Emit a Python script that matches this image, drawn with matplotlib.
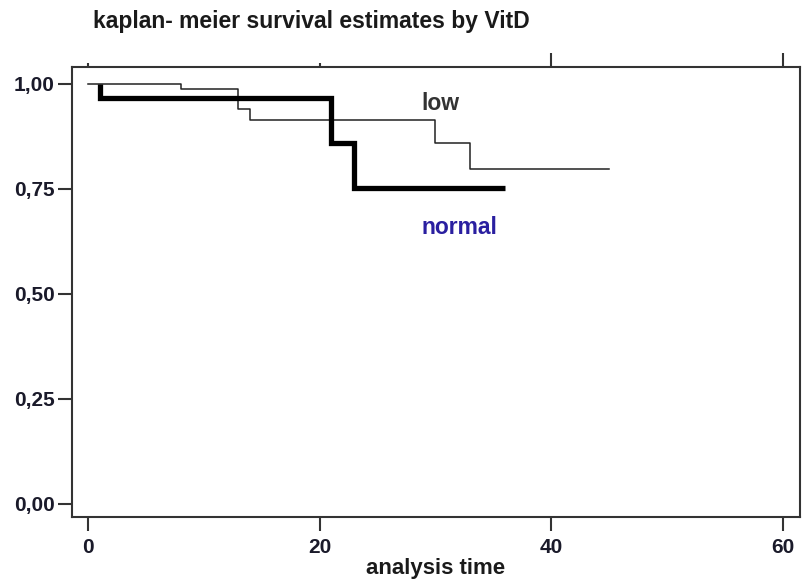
import matplotlib
matplotlib.use("Agg")
import matplotlib.pyplot as plt

# Kaplan-Meier step data
low_time = [0, 8, 13, 14, 30, 33, 45]
low_surv = [1.0, 0.987, 0.940, 0.914, 0.859, 0.797, 0.797]
normal_time = [1, 1, 21, 23, 36]
normal_surv = [1.0, 0.967, 0.859, 0.753, 0.753]

x_ticks = [0, 20, 40, 60]
y_ticks = [0.0, 0.25, 0.5, 0.75, 1.0]
y_ticklabels = ["0,00", "0,25", "0,50", "0,75", "1,00"]

title = "kaplan- meier survival estimates by VitD"
xlabel = "analysis time"

plt.rcParams['font.family'] = ['Liberation Sans', 'DejaVu Sans']

fig = plt.figure(figsize=(8.02, 5.81), dpi=100)
ax = fig.add_axes([72/802, 1-517/581, (800-72)/802, (517-67)/581])

ax.step(low_time, low_surv, where='post', color='#222222', lw=1.1)
ax.step(normal_time, normal_surv, where='post', color='black', lw=3.8,
        solid_capstyle='butt', solid_joinstyle='miter')

ax.set_xlim(-1.38, 61.5)
ax.set_ylim(-0.031, 1.04)

ax.set_xticks(x_ticks)
ax.set_xticklabels([str(t) for t in x_ticks])
ax.set_yticks(y_ticks)
ax.set_yticklabels(y_ticklabels)

ax.tick_params(axis='both', direction='out', length=10, width=1.5, color='#333333',
               labelsize=15)
ax.tick_params(axis='x', pad=5, top=True)
ax.tick_params(axis='y', pad=2.5)
for lbl in ax.get_xticklabels() + ax.get_yticklabels():
    lbl.set_fontweight('bold')
    lbl.set_color('#1a1a2a')
top_lengths = [3, 3, 10, 10]
for tk, L in zip(ax.xaxis.get_major_ticks(), top_lengths):
    tk.tick2line.set_markersize(L)

for sp in ax.spines.values():
    sp.set_linewidth(1.5)
    sp.set_color('#333333')

ax.set_xlabel(xlabel, fontsize=16, fontweight='bold', labelpad=0.5, color='#1a1a1a')

ax.text(28.8, 0.938, "low", fontsize=16.5, fontweight='bold', color='#333333',
        ha='left', va='baseline')
ax.text(28.8, 0.643, "normal", fontsize=16.5, fontweight='bold', color='#2a1fa0',
        ha='left', va='baseline')

fig.text(93/802, 1-28/581, title, fontsize=16.5, fontweight='bold', color='#1a1a1a',
         ha='left', va='baseline')

fig.savefig("out.png", dpi=100)
